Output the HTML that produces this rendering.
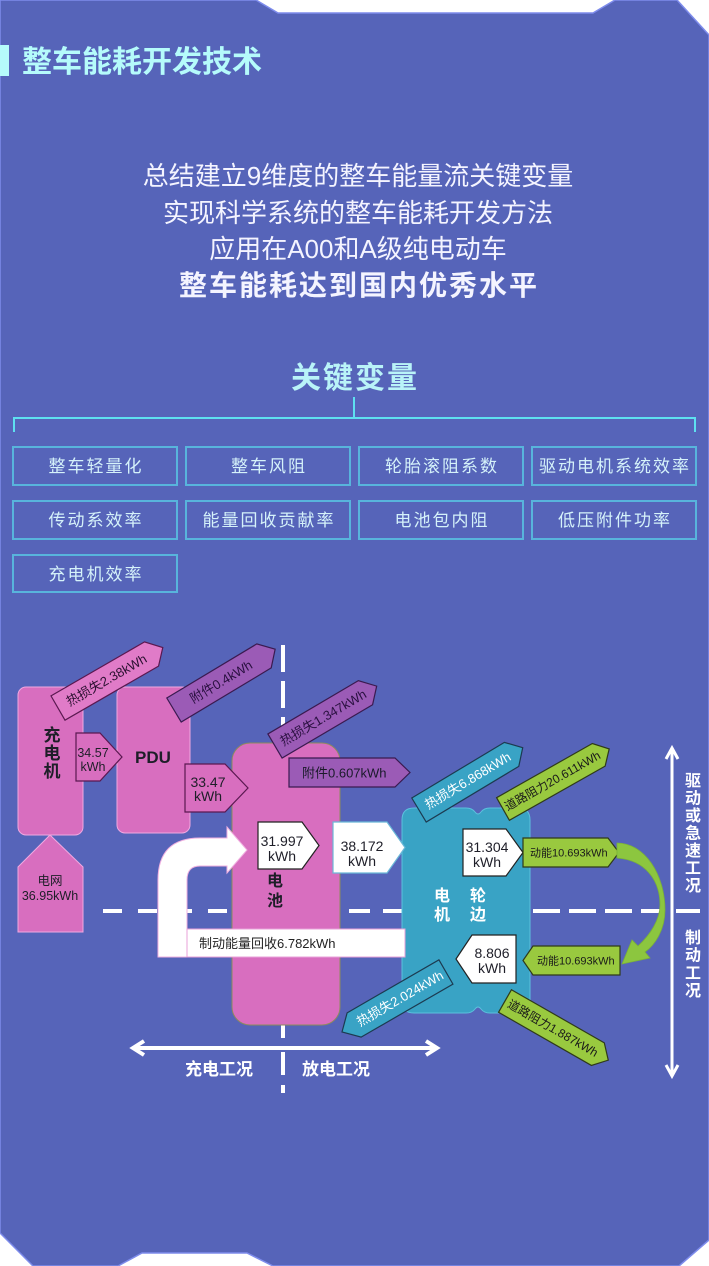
<!DOCTYPE html>
<html><head><meta charset="utf-8"><style>
html,body{margin:0;padding:0;background:#fff;}
svg{display:block;}
text{font-family:"Liberation Sans","Noto Sans CJK SC",sans-serif;}
.cj{font-family:"Noto Sans CJK SC","Liberation Sans",sans-serif;}
</style></head><body>
<svg width="709" height="1266" viewBox="0 0 709 1266" xmlns="http://www.w3.org/2000/svg">
<rect width="709" height="1266" fill="#fff"/>
<polygon points="0,0 256,0 278,13 593,13 615,0 677,0 709,35 709,1240 679,1266 273,1266 247,1253 142,1253 118,1266 33,1266 0,1233" fill="#5664b9" stroke="#7e8cec" stroke-width="1.5"/>

<!-- title -->
<rect x="0" y="45" width="9" height="31" fill="#b5fbfb"/>
<text x="22" y="72" font-size="30" font-weight="bold" fill="#b5fbfb" class="cj">整车能耗开发技术</text>

<!-- paragraph -->
<g fill="#f4f4ff" text-anchor="middle">
<text x="358" y="185" font-size="26">总结建立9维度的整车能量流关键变量</text>
<text x="358" y="222" font-size="26">实现科学系统的整车能耗开发方法</text>
<text x="358" y="258" font-size="26">应用在A00和A级纯电动车</text>
<text x="359" y="295" font-size="28" font-weight="bold" letter-spacing="2">整车能耗达到国内优秀水平</text>
</g>

<!-- key variables -->
<text x="355" y="388" font-size="30" font-weight="bold" fill="#b9f3f8" text-anchor="middle" letter-spacing="2">关键变量</text>
<g stroke="#5ee0f0" stroke-width="2" fill="none">
<line x1="354" y1="397" x2="354" y2="418"/>
<polyline points="14,432 14,418 695,418 695,432"/>
</g>
<g fill="none" stroke="#58b4dc" stroke-width="2">
<rect x="13" y="447" width="164" height="38"/>
<rect x="186" y="447" width="164" height="38"/>
<rect x="359" y="447" width="164" height="38"/>
<rect x="532" y="447" width="164" height="38"/>
<rect x="13" y="501" width="164" height="38"/>
<rect x="186" y="501" width="164" height="38"/>
<rect x="359" y="501" width="164" height="38"/>
<rect x="532" y="501" width="164" height="38"/>
<rect x="13" y="555" width="164" height="37"/>
</g>
<g fill="#d5f2fa" font-size="17" text-anchor="middle" letter-spacing="2">
<text x="96" y="472">整车轻量化</text>
<text x="269" y="472">整车风阻</text>
<text x="442" y="472">轮胎滚阻系数</text>
<text x="615" y="472">驱动电机系统效率</text>
<text x="96" y="526">传动系效率</text>
<text x="269" y="526">能量回收贡献率</text>
<text x="442" y="526">电池包内阻</text>
<text x="615" y="526">低压附件功率</text>
<text x="96" y="580">充电机效率</text>
</g>

<!-- dashed lines -->
<g stroke="#fff" stroke-width="4">
<line x1="283" y1="645" x2="283" y2="672"/>
<line x1="283" y1="681" x2="283" y2="708"/>
<line x1="283" y1="717" x2="283" y2="744"/>
<line x1="283" y1="1025" x2="283" y2="1038"/>
<line x1="283" y1="1052" x2="283" y2="1075"/>
<line x1="283" y1="1085" x2="283" y2="1093"/>
<line x1="103" y1="911" x2="232" y2="911" stroke-dasharray="19 16"/>
<line x1="349" y1="911" x2="370" y2="911"/>
<line x1="383" y1="911" x2="402" y2="911"/>
<line x1="533" y1="911" x2="665" y2="911" stroke-dasharray="27 9"/>
<line x1="676" y1="911" x2="700" y2="911"/>
</g>

<!-- vertical double arrow -->
<g stroke="#fff" stroke-width="3" fill="none">
<line x1="672" y1="748" x2="672" y2="1076"/>
<polyline points="666,759 672,748 678,759"/>
<polyline points="666,1065 672,1076 678,1065"/>
</g>
<g fill="#fff" font-size="16" font-weight="bold" text-anchor="middle">
<text x="693" y="786">驱</text>
<text x="693" y="803.5">动</text>
<text x="693" y="821">或</text>
<text x="693" y="838.5">急</text>
<text x="693" y="856">速</text>
<text x="693" y="873.5">工</text>
<text x="693" y="891">况</text>
<text x="693" y="943">制</text>
<text x="693" y="960.7">动</text>
<text x="693" y="978.4">工</text>
<text x="693" y="996">况</text>
</g>

<!-- bottom double arrow -->
<g stroke="#fff" stroke-width="4" fill="none">
<line x1="133" y1="1048" x2="437" y2="1048"/>
<polyline points="144,1041 133,1048 144,1055"/>
<polyline points="426,1041 437,1048 426,1055"/>
</g>
<g fill="#fff" font-size="17" font-weight="bold">
<text x="185" y="1075">充电工况</text>
<text x="302" y="1075">放电工况</text>
</g>

<!-- charger / PDU / grid -->
<rect x="18" y="687" width="65" height="148" rx="8" fill="#d86ebf" stroke="#f0a8e0" stroke-width="1"/>
<rect x="117" y="687" width="73" height="146" rx="8" fill="#d86ebf" stroke="#f0a8e0" stroke-width="1"/>
<polygon points="50,835 83,867 83,932 18,932 18,867" fill="#d86ebf" stroke="#f0a8e0" stroke-width="1"/>
<g fill="#1e1e28" font-size="17" font-weight="bold" text-anchor="middle">
<text x="52" y="741">充</text>
<text x="52" y="759">电</text>
<text x="52" y="777">机</text>
<text x="153" y="763">PDU</text>
</g>
<g fill="#1e1e28" font-size="12.5" text-anchor="middle">
<text x="50" y="885">电网</text>
<text x="50" y="900">36.95kWh</text>
</g>

<!-- battery -->
<rect x="232" y="743" width="108" height="282" rx="18" fill="#d86ebf" stroke="#8d8a5c" stroke-width="1"/>
<g fill="#1e1e28" font-size="16" font-weight="bold" text-anchor="middle">
<text x="275" y="886">电</text>
<text x="275" y="906">池</text>
</g>

<!-- teal motor box -->
<path d="M414 808 L466 808 Q472 808 475 812 Q478 816 481 812 Q484 808 490 808 L518 808 Q530 808 530 820 L530 1001 Q530 1013 518 1013 L490 1013 Q484 1013 481 1009 Q478 1005 475 1009 Q472 1013 466 1013 L414 1013 Q402 1013 402 1001 L402 820 Q402 808 414 808 Z" fill="#39a3c5" stroke="#5cc0dd" stroke-width="1"/>
<g fill="#fff" font-size="16" font-weight="bold" text-anchor="middle">
<text x="442" y="901">电</text>
<text x="442" y="920">机</text>
<text x="478" y="901">轮</text>
<text x="478" y="920">边</text>
</g>

<!-- regen white arrow -->
<path d="M158 957 L158 880 Q158 838 200 838 L227 838 L227 827 L247 850 L227 873 L227 866 L200 866 Q187 866 187 880 L187 957 Z" fill="#fff" stroke="#f0b0e0" stroke-width="1"/>
<rect x="187" y="929" width="218" height="28" fill="#fff" stroke="#e8a0d8" stroke-width="1"/>
<text x="199" y="948" font-size="13" fill="#222">制动能量回收6.782kWh</text>

<!-- horizontal pentagon arrows -->
<polygon points="76,733 100,733 122,757 100,781 76,781" fill="#d86ebf" stroke="#5a1850" stroke-width="1.2"/>
<polygon points="185,764 225,764 248,788 225,812 185,812" fill="#d86ebf" stroke="#5a1850" stroke-width="1.2"/>
<polygon points="258,822 302,822 319,845.5 302,869 258,869" fill="#fff" stroke="#222" stroke-width="1.2"/>
<polygon points="333,822 387,822 405,847.5 387,873 333,873" fill="#fff" stroke="#6ab8d8" stroke-width="1.2"/>
<polygon points="289,758 395,758 410,772.5 395,787 289,787" fill="#9b5bb6" stroke="#3a1a50" stroke-width="1.2"/>
<polygon points="463,829 506,829 523,852.5 506,876 463,876" fill="#fff" stroke="#222" stroke-width="1.2"/>
<polygon points="456,959 472,935 516,935 516,983 472,983" fill="#fff" stroke="#222" stroke-width="1.2"/>
<polygon points="523,838 608,838 619,852.5 608,867 523,867" fill="#99c93f" stroke="#2f3a1a" stroke-width="1.2"/>
<polygon points="523,960.5 533,946 620,946 620,975 533,975" fill="#99c93f" stroke="#2f3a1a" stroke-width="1.2"/>

<g fill="#1e1e28" text-anchor="middle">
<text x="93" y="757" font-size="12.5">34.57</text>
<text x="93" y="771" font-size="12.5">kWh</text>
<text x="208" y="787" font-size="14">33.47</text>
<text x="208" y="801" font-size="14">kWh</text>
<text x="282" y="846" font-size="14">31.997</text>
<text x="282" y="861" font-size="14">kWh</text>
<text x="362" y="851" font-size="14">38.172</text>
<text x="362" y="866" font-size="14">kWh</text>
<text x="487" y="852" font-size="14">31.304</text>
<text x="487" y="867" font-size="14">kWh</text>
<text x="492" y="958" font-size="14">8.806</text>
<text x="492" y="973" font-size="14">kWh</text>
</g>
<text x="302" y="777.5" font-size="13" fill="#1a1a2a">附件0.607kWh</text>
<text x="530" y="856.5" font-size="11" fill="#1a1a1a">动能10.693kWh</text>
<text x="537" y="964.5" font-size="11" fill="#1a1a1a">动能10.693kWh</text>

<!-- curved green arrow -->
<path d="M617 843 C645 843 665 875 665 910 C665 930 655 945 645 952 L650 958 L622 964 L632 940 L638 946 C650 935 660 920 660 905 C660 880 645 860 617 858 Z" fill="#8cc63f" stroke="#7ab03a" stroke-width="0.8"/>

<!-- rotated arrows -->
<g transform="translate(58,708) rotate(-30)">
<polygon points="0,-14 108,-14 121,0 108,14 0,14" fill="#e07bc8" stroke="#5a1850" stroke-width="1.2"/>
<text x="56" y="4.5" font-size="13" fill="#2a1030" text-anchor="middle">热损失2.38kWh</text>
</g>
<g transform="translate(174,710) rotate(-31)">
<polygon points="0,-14 105,-14 118,0 105,14 0,14" fill="#9b5bb6" stroke="#3a1a50" stroke-width="1.2"/>
<text x="55" y="4.5" font-size="13" fill="#2a1040" text-anchor="middle">附件0.4kWh</text>
</g>
<g transform="translate(275,746) rotate(-30.5)">
<polygon points="0,-14 105,-14 118,0 105,14 0,14" fill="#9b5bb6" stroke="#3a1a50" stroke-width="1.2"/>
<text x="56" y="4.5" font-size="13" fill="#2a1040" text-anchor="middle">热损失1.347kWh</text>
</g>
<g transform="translate(419,810) rotate(-31)">
<polygon points="0,-14 108,-14 121,0 108,14 0,14" fill="#39a3c5" stroke="#1c3a50" stroke-width="1.2"/>
<text x="57" y="4.5" font-size="13" fill="#fff" text-anchor="middle">热损失6.868kWh</text>
</g>
<g transform="translate(503,809) rotate(-29.5)">
<polygon points="0,-13 110,-13 122,0 110,13 0,13" fill="#99c93f" stroke="#2f3a1a" stroke-width="1.2"/>
<text x="57" y="4" font-size="12" fill="#1a1a1a" text-anchor="middle">道路阻力20.611kWh</text>
</g>
<g transform="translate(342,1032) rotate(-30)">
<polygon points="0,0 14,-14 120,-14 120,14 14,14" fill="#39a3c5" stroke="#1c3a50" stroke-width="1.2"/>
<text x="67" y="4.5" font-size="13" fill="#fff" text-anchor="middle">热损失2.024kWh</text>
</g>
<g transform="translate(505,1001) rotate(29.8)">
<polygon points="0,-13 107,-13 119,0 107,13 0,13" fill="#99c93f" stroke="#2f3a1a" stroke-width="1.2"/>
<text x="55" y="4" font-size="12" fill="#1a1a1a" text-anchor="middle">道路阻力1.887kWh</text>
</g>
</svg>
</body></html>
